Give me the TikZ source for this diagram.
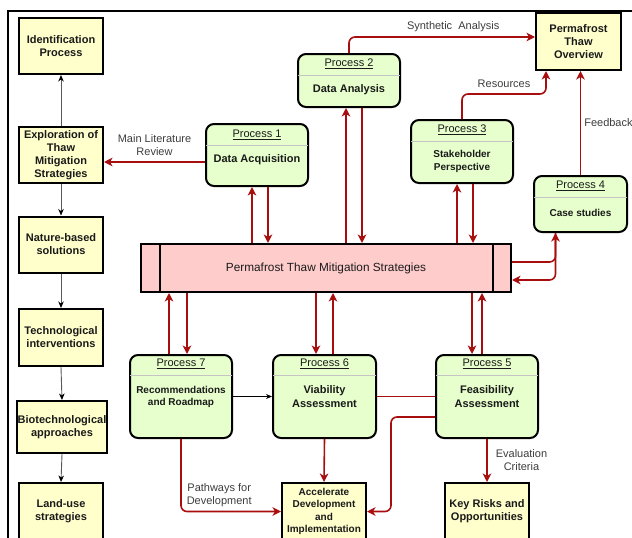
\documentclass[tikz,border=0pt]{standalone}
\usepackage{fontspec}
\setmainfont{Liberation Sans}
\usepackage{tikz}
\usetikzlibrary{arrows.meta}

\definecolor{boxyellow}{HTML}{FFFFCC}
\definecolor{boxgreen}{HTML}{E6FFCC}
\definecolor{boxpink}{HTML}{FFCCCC}
\definecolor{flowred}{HTML}{A80E0E}
\definecolor{labelgray}{HTML}{3C3C3C}
\definecolor{sepgray}{HTML}{C4C4C4}
\definecolor{inkdark}{HTML}{1A1A1A}

\tikzset{
  outbox/.style={draw=black, line width=2pt, fill=boxyellow, minimum width=84pt, minimum height=56pt,
    align=center, text=inkdark, font=\bfseries\fontsize{11}{13}\selectfont, inner sep=1pt},
  procbox/.style={draw=black, line width=2pt, fill=boxgreen, rounded corners=8pt, minimum width=102pt},
  proctitle/.style={font=\fontsize{11}{13}\selectfont, text=inkdark, inner sep=0pt},
  procbody/.style={font=\bfseries\fontsize{11}{14}\selectfont, text=inkdark, align=center, inner sep=0pt},
  procsmall/.style={procbody, font=\bfseries\fontsize{10}{12.5}\selectfont},
  sepline/.style={draw=sepgray, line width=1pt, shorten <=1pt, shorten >=1pt},
  flow/.style={draw=flowred, line width=1.6pt, -{Stealth[length=8.5pt,width=8.5pt,inset=2.5pt]}},
  plainflow/.style={draw=flowred, line width=1.6pt},
  blackflow/.style={draw=black, line width=0.8pt, -{Stealth[length=6pt,width=5pt,inset=2pt]}},
  grayflow/.style={draw=black!65, line width=0.9pt, -{Stealth[length=6.5pt,width=5.5pt,inset=2pt,color=black]}},
  labeltext/.style={font=\fontsize{11}{13}\selectfont, text=labelgray, align=center, inner sep=1pt}
}

\begin{document}
\begin{tikzpicture}[x=1pt, y=-1pt]
\clip (0,0) rectangle (632,538);
% outer frame
\draw[line width=2pt] (8,545) -- (8,11) -- (640,11);

% left column of outcome boxes
\node[outbox] (ident) at (61,46) {Identification\\Process};
\node[outbox] (explore) at (61,155) {Exploration of\\Thaw\\Mitigation\\Strategies};
\node[outbox] (nature) at (61,244.5) {Nature-based\\solutions};
\node[outbox, minimum height=57pt] (techno) at (61,337.5) {Technological\\interventions};
\node[outbox, minimum width=86pt, minimum height=52pt] (biotech) at (62,427) {Biotechnological\\approaches};
\node[outbox, minimum height=57pt] (landuse) at (61,511.5) {Land-use\\strategies};

% chain down the left column
\draw[grayflow] (explore.north) -- (ident.south);
\draw[grayflow] (explore.south) -- (nature.north);
\draw[grayflow] (nature.south) -- (techno.north);
\draw[grayflow] (techno.south) -- (biotech.north);
\draw[grayflow] (biotech.south) -- (landuse.north);

% central bar
\node[draw=black, line width=2pt, fill=boxpink, minimum width=370pt, minimum height=48pt,
  font=\fontsize{11.8}{14}\selectfont, text=inkdark] (bar) at (326,268) {Permafrost Thaw Mitigation Strategies};
\draw[line width=2pt] ([xshift=20pt]bar.north west) -- ([xshift=20pt]bar.south west); % left cell
\draw[line width=2pt] ([xshift=-19pt]bar.north east) -- ([xshift=-19pt]bar.south east); % right cell

% other outcome boxes
\node[outbox, minimum width=85pt, minimum height=57pt] (overview) at (578.5,41.5) {Permafrost\\Thaw\\Overview};
\node[outbox, font=\bfseries\fontsize{10}{12.3}\selectfont, minimum height=57pt] (accel) at (324,511.5) {Accelerate\\Development\\and\\Implementation};
\node[outbox, minimum height=57pt] (keyrisk) at (487,511.5) {Key Risks and\\Opportunities};

% Process 1
\node[procbox, minimum height=62pt] (proc1) at (257,155) {};
\node[proctitle] (proc1title) at (257,135) {\underline{Process 1}};
\draw[sepline] ([yshift=-22pt]proc1.north west) -- ([yshift=-22pt]proc1.north east);
\node[procbody] (proc1body) at (257,160) {Data Acquisition};
% Process 2
\node[procbox, minimum height=53pt] (proc2) at (349,80.5) {};
\node[proctitle] (proc2title) at (349,64) {\underline{Process 2}};
\draw[sepline] ([yshift=-22pt]proc2.north west) -- ([yshift=-22pt]proc2.north east);
\node[procbody] (proc2body) at (349,90) {Data Analysis};
% Process 3
\node[procbox, minimum height=63pt] (proc3) at (462,151.5) {};
\node[proctitle] (proc3title) at (462,130) {\underline{Process 3}};
\draw[sepline] ([yshift=-22pt]proc3.north west) -- ([yshift=-22pt]proc3.north east);
\node[procsmall] (proc3body) at (462,161.5) {Stakeholder\\Perspective};
% Process 4
\node[procbox, minimum width=93pt, minimum height=56pt] (proc4) at (580.5,204) {};
\node[proctitle] (proc4title) at (580.5,186) {\underline{Process 4}};
\draw[sepline] ([yshift=-22pt]proc4.north west) -- ([yshift=-22pt]proc4.north east);
\node[procsmall] (proc4body) at (580.5,213) {Case studies};
% Process 7
\node[procbox, minimum height=83pt] (proc7) at (181,396.5) {};
\node[proctitle] (proc7title) at (181,364) {\underline{Process 7}};
\draw[sepline] ([yshift=-21pt]proc7.north west) -- ([yshift=-21pt]proc7.north east);
\node[procsmall] (proc7body) at (181,397) {Recommendations\\and Roadmap};
% Process 6
\node[procbox, minimum width=103pt, minimum height=83pt] (proc6) at (324.5,396.5) {};
\node[proctitle] (proc6title) at (324.5,364) {\underline{Process 6}};
\draw[sepline] ([yshift=-21pt]proc6.north west) -- ([yshift=-21pt]proc6.north east);
\node[procbody] (proc6body) at (324.5,397) {Viability\\Assessment};
% Process 5
\node[procbox, minimum height=83pt] (proc5) at (487,396.5) {};
\node[proctitle] (proc5title) at (487,364) {\underline{Process 5}};
\draw[sepline] ([yshift=-21pt]proc5.north west) -- ([yshift=-21pt]proc5.north east);
\node[procbody] (proc5body) at (487,397) {Feasibility\\Assessment};

% processes above the bar
\draw[flow] ([xshift=-5pt]proc1.south |- bar.north) -- ([xshift=-5pt]proc1.south);
\draw[flow] ([xshift=11pt]proc1.south) -- ([xshift=11pt]proc1.south |- bar.north);
\draw[flow] ([xshift=-3pt]proc2.south |- bar.north) -- ([xshift=-3pt]proc2.south);
\draw[flow] ([xshift=13pt]proc2.south) -- ([xshift=13pt]proc2.south |- bar.north);
\draw[flow] ([xshift=-5pt]proc3.south |- bar.north) -- ([xshift=-5pt]proc3.south);
\draw[flow] ([xshift=11pt]proc3.south) -- ([xshift=11pt]proc3.south |- bar.north);

% processes below the bar
\draw[flow] ([xshift=-12pt]proc7.north) -- ([xshift=-12pt]proc7.north |- bar.south);
\draw[flow] ([xshift=6pt]proc7.north |- bar.south) -- ([xshift=6pt]proc7.north);
\draw[flow] ([xshift=-8.5pt]proc6.north |- bar.south) -- ([xshift=-8.5pt]proc6.north);
\draw[flow] ([xshift=8.5pt]proc6.north) -- ([xshift=8.5pt]proc6.north |- bar.south);
\draw[flow] ([xshift=-15pt]proc5.north |- bar.south) -- ([xshift=-15pt]proc5.north);
\draw[flow] ([xshift=-5pt]proc5.north) -- ([xshift=-5pt]proc5.north |- bar.south);

% bar and Process 4
\draw[flow, rounded corners=6pt] ([yshift=6pt]bar.east) -| ([xshift=-25pt]proc4.south);
\draw[flow, rounded corners=6pt] ([xshift=-25pt]proc4.south) |- ([yshift=-12pt]bar.east);

% outputs of the upper processes
\draw[flow] ([yshift=-7pt]proc1.west) -- node[midway, above=5pt, labeltext] (litlabel) {Main Literature\\Review} ([yshift=-7pt]explore.east);
\draw[flow, rounded corners=6pt] (proc2.north) |- node[pos=0.78, above=3pt, labeltext] (synlabel) {Synthetic\ \ Analysis} ([yshift=4.5pt]overview.west);
\draw[flow, rounded corners=6pt] (proc3.north) -- ++(0,-25) -| node[pos=0.25, above=5pt, labeltext] (reslabel) {Resources} ([xshift=-32.5pt]overview.south);
\draw[flow] (proc4.north) -- node[midway, right=2pt, labeltext] (feedlabel) {Feedback} (proc4.north |- overview.south);

% outputs of the lower processes
\draw[blackflow] (proc7.east) -- (proc6.west);
\draw[plainflow] (proc6.east) -- (proc5.west);
\draw[flow] (proc6.south) -- (accel.north);
\draw[flow, rounded corners=6pt] ([yshift=-20.5pt]proc5.west) -- ++(-44,0) |- (accel.east);
\draw[flow, rounded corners=6pt] (proc7.south) |- node[pos=0.5, anchor=south west, xshift=4pt, yshift=3pt, labeltext] (pathlabel) {Pathways for\\Development} (accel.west);
\draw[flow] (proc5.south) -- node[midway, right=7pt, labeltext] (evallabel) {Evaluation\\Criteria} (keyrisk.north);
\end{tikzpicture}
\end{document}
